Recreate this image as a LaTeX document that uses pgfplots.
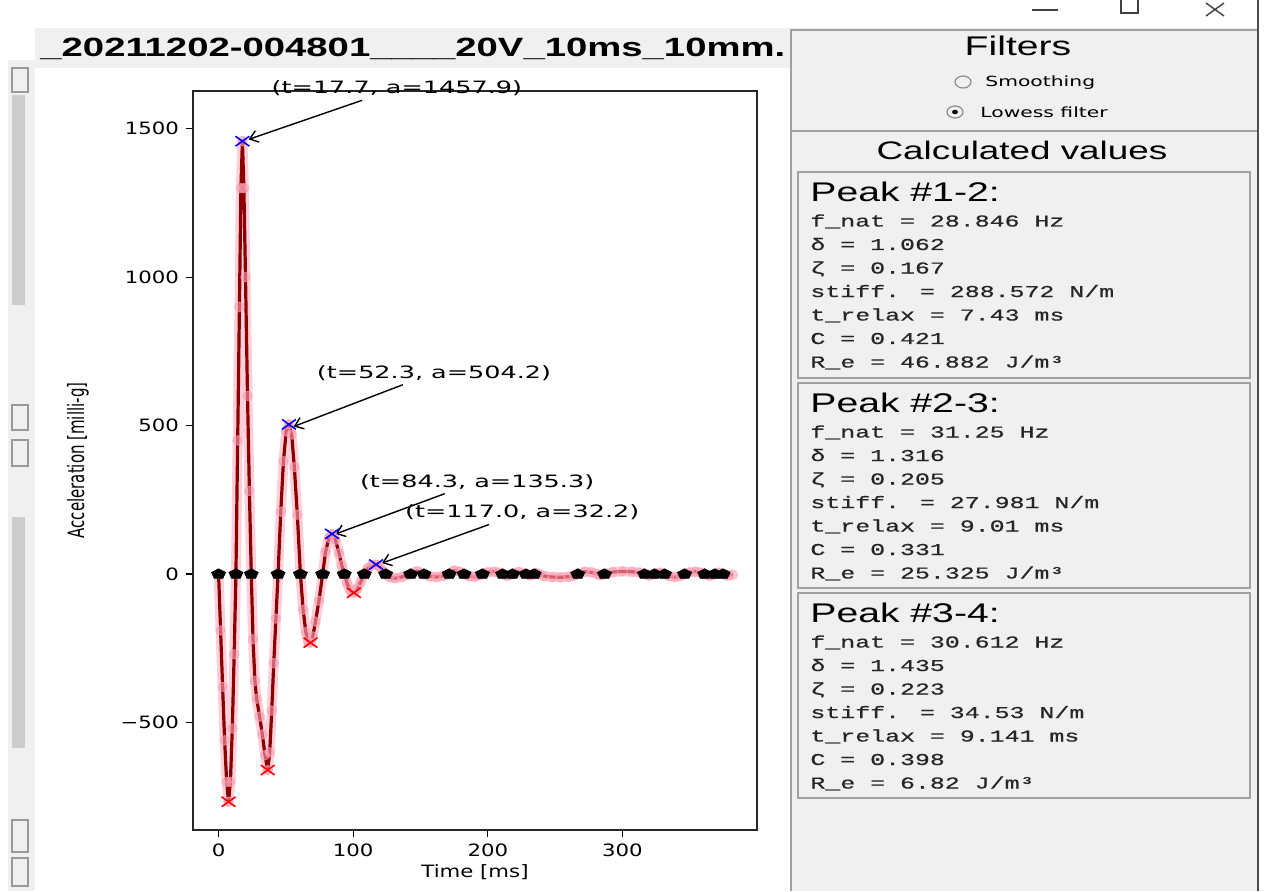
\documentclass[border=0pt]{standalone}
\usepackage{fontspec}
\usepackage{pgfplots}
\pgfplotsset{compat=1.18}
\usetikzlibrary{arrows.meta}
\setmainfont{DejaVu Sans}
\newfontfamily\mpl[FakeStretch=1.25]{DejaVu Sans}
\newfontfamily\mpla[FakeStretch=1.5]{DejaVu Sans}
\newfontfamily\arialw[FakeStretch=1.45]{Liberation Sans}
\newfontfamily\monow[FakeStretch=1.5,FakeBold=0.6]{Liberation Mono}
\newfontfamily\guiw[FakeStretch=1.45]{DejaVu Sans}
\definecolor{panel}{RGB}{240,240,240}
\definecolor{frameg}{RGB}{160,160,160}
\definecolor{rawpink}{RGB}{255,160,180}
\definecolor{smoothred}{RGB}{139,0,0}

% lowess-smoothed signal
\pgfplotstableread{
t a
0 0
1.5 -190
3 -380
4.5 -560
6 -700
7.4 -767
8.8 -700
10.2 -520
11.6 -270
12.9 0
14.2 450
15.5 900
16.6 1300
17.7 1458
18.8 1300
20 1000
21.5 600
22.9 280
24.3 0
25.6 -220
27 -360
28.3 -420
30.5 -480
32.5 -540
34.5 -610
36.5 -660
38 -600
39.5 -460
41 -300
42.6 -150
44.2 0
46.2 210
48.2 380
50.2 480
52.3 504
54.3 470
56.3 360
58.5 200
60.8 0
62.8 -120
64.8 -195
66.6 -228
68.3 -231
70 -210
72 -160
74.6 -90
77.3 0
79.5 75
82 122
84.3 135
86.8 115
89.5 70
91.5 30
93.4 0
95.5 -32
98 -57
100.5 -63
103 -50
105.5 -28
108.3 0
111 20
114 30
117 32
119.5 25
122 10
124.1 0
127 -10
131 -14
136 -10
142.7 0
147.5 10
152.6 0
157 -8
162 -10
167 -6
171.3 0
175 12
179 8
182.4 0
186 -7
190 -9
193 -5
196 0
200 6
205 8
208 5
211 0
214.5 -6
218.4 0
223 7
228.4 0
231.5 -5
234.5 0
236.3 3
238 0
242 -7
248 -10
254 -11
260 -9
264 -5
266.8 0
272 8
277 6
281.5 0
284 -4
286.7 0
293 7
300 9
307 8
313 5
316.5 0
320 -5
323.9 0
327.5 5
331.3 0
335 -7
339 -10
343 -6
346.2 0
350 6
354 8
358 5
361.1 0
365 -6
368.6 0
371.5 5
374.8 0
378 -5
382 -2
}\smoothdata

% zero crossings
\pgfplotstableread{
t a
0 0
12.9 0
24.3 0
44.2 0
60.8 0
77.3 0
93.4 0
108.3 0
124.1 0
142.7 0
152.6 0
171.3 0
182.4 0
196 0
211 0
218.4 0
228.4 0
234.5 0
266.8 0
286.7 0
316.5 0
323.9 0
331.3 0
346.2 0
361.1 0
368.6 0
374.8 0
}\zerodata

\pgfplotstableread{
t a
17.7 1457.9
52.3 504.2
84.3 135.3
117.0 32.2
}\maxdata

\pgfplotstableread{
t a
7.4 -767
36.5 -660
68.3 -231
100.5 -63
}\mindata

\begin{document}
\begin{tikzpicture}[x=0.5pt,y=0.5pt]
\path[use as bounding box, fill=white] (0,0) rectangle (1265,891);

% window chrome, in screen pixels (y down)
\begin{scope}[shift={(0,891)}, y=-0.5pt]
  % left strip
  \fill[panel] (8,60) rectangle (35,891);
  \fill[black!20] (12,95) rectangle (25,305);
  \fill[black!20] (12,517) rectangle (25,748);
  \foreach \ya/\yb in {68/92, 405/430, 440/466, 820/852, 858/886}
    \draw[black!40, line width=0.7pt] (12,\ya) rectangle (28,\yb);
  % title band
  \fill[panel] (35,28) rectangle (790,68);
  \node[anchor=base west, inner sep=0pt, font=\arialw\bfseries\fontsize{13.2}{15}\selectfont]
    at (40,57) {\_20211202-004801\_\_\_\_20V\_10ms\_10mm.};
  % right panel
  \fill[panel] (790,28) rectangle (1258,891);
  \draw[frameg, line width=0.9pt] (791,30) -- (791,891);
  \draw[frameg, line width=0.9pt] (790,30) -- (1258,30);
  \draw[frameg, line width=0.9pt] (790,131) -- (1258,131);
  \draw[black!70, line width=1pt] (1258,0) -- (1258,891);
  \foreach \ya/\yb in {172/378, 383/588, 593/798}
    \draw[frameg, line width=0.9pt] (798,\ya) rectangle (1250,\yb);
  % window buttons
  \draw[black!75, line width=0.7pt] (1032,10) -- (1058,10);
  \draw[black!75, line width=0.7pt] (1121,0) -- (1121,13) -- (1138,13) -- (1138,0);
  \draw[black!75, line width=0.7pt] (1206,3) -- (1224,16) (1206,16) -- (1224,3);
  % filters
  \node[anchor=base, inner sep=0pt, font=\arialw\fontsize{13.5}{15}\selectfont] at (1018,56) {Filters};
  \draw[black!45, line width=0.6pt] (963,82) ellipse [x radius=8, y radius=6];
  \node[anchor=base west, inner sep=0pt, font=\guiw\fontsize{7}{8}\selectfont] at (985,87) {Smoothing};
  \draw[black!45, line width=0.6pt] (955,112) ellipse [x radius=8, y radius=6];
  \fill[black] (955,112) ellipse [x radius=3, y radius=2.3];
  \node[anchor=base west, inner sep=0pt, font=\guiw\fontsize{7}{8}\selectfont] at (980,118) {Lowess filter};
  \node[anchor=base, inner sep=0pt, font=\arialw\fontsize{12.7}{15}\selectfont] at (1022,160) {Calculated values};
  % calculated values
  \foreach \y/\head/\fa/\fb/\fc/\fd/\fe/\ff/\fg in {
      192/Peak \#1-2:/28.846 Hz/1.062/0.167/288.572 N\slash m/7.43 ms/0.421/46.882 J\slash m³,
      403/Peak \#2-3:/31.25 Hz/1.316/0.205/27.981 N\slash m/9.01 ms/0.331/25.325 J\slash m³,
      613/Peak \#3-4:/30.612 Hz/1.435/0.223/34.53 N\slash m/9.141 ms/0.398/6.82 J\slash m³}{
    \node[anchor=base west, inner sep=0pt, font=\arialw\fontsize{13.5}{15}\selectfont] at (810,\y+9.5) {\head};
    \begin{scope}[every node/.style={anchor=base west, inner sep=0pt, text=black!85,
                  font=\monow\fontsize{8.3}{10}\selectfont}]
      \node at (810,\y+34.5) {f\_nat = \fa};
      \node at (810,\y+58)   {δ = \fb};
      \node at (810,\y+81.5) {ζ = \fc};
      \node at (810,\y+105)  {stiff. = \fd};
      \node at (810,\y+128.5){t\_relax = \fe};
      \node at (810,\y+152)  {C = \ff};
      \node at (810,\y+175.5){R\_e = \fg};
    \end{scope}
  }
\end{scope}

\begin{axis}[
  at={(96.5pt,400pt)}, anchor=north west, scale only axis,
  width=282pt, height=369.5pt,
  xmin=-19, xmax=400, ymin=-862, ymax=1627,
  xtick={0,100,200,300}, xticklabels={0,100,200,300},
  ytick={-500,0,500,1000,1500}, yticklabels={−500,0,500,1000,1500},
  tick pos=left, tick align=outside, major tick length=3.5pt,
  tick style={black, line width=0.6pt},
  axis line style={line width=0.8pt, black!85},
  ticklabel style={font=\mpl\fontsize{8.5}{10}\selectfont},
  xlabel={Time [ms]},
  xlabel style={font=\mpl\fontsize{8.5}{10}\selectfont, at={(axis description cs:0.5,-0.0568)}, anchor=center},
  ylabel={\scalebox{1}[1.5]{Acceleration [milli-g]}},
  ylabel style={font=\fontsize{7.5}{9}\selectfont, at={(axis description cs:-0.204,0.5)}, anchor=center},
  clip=false,
]
\addplot[rawpink, opacity=0.5, line width=5pt, line join=round] table[x=t, y=a] {\smoothdata};
\addplot[only marks, mark=*, mark size=2.4pt, rawpink, opacity=0.6] table[x=t, y=a] {\smoothdata};
\addplot[smoothred, line width=1.6pt, line join=round] table[x=t, y=a] {\smoothdata};
\addplot[only marks, mark=pentagon*, mark size=2.6pt, black, mark options={xscale=1.4}] table[x=t, y=a] {\zerodata};
\addplot[only marks, mark=x, mark size=3.5pt, blue, line width=0.8pt, mark options={xscale=1.4}] table[x=t, y=a] {\maxdata};
\addplot[only marks, mark=x, mark size=3.5pt, red, line width=0.8pt, mark options={xscale=1.4}] table[x=t, y=a] {\mindata};

\begin{scope}[every node/.style={font=\mpla\fontsize{8.5}{10}\selectfont, inner sep=2pt},
              annot/.style={-{Straight Barb[length=4pt,width=6pt]}, line width=0.7pt, black}]
  \node (n1) at (axis cs:132.5,1636) {(t=17.7, a=1457.9)};
  \draw[annot] (n1) -- (axis cs:22.3,1464);
  \node (n2) at (axis cs:160.1,678) {(t=52.3, a=504.2)};
  \draw[annot] (n2) -- (axis cs:55.8,497);
  \node (n3) at (axis cs:192.1,311) {(t=84.3, a=135.3)};
  \draw[annot] (n3) -- (axis cs:86.9,135);
  \node (n4) at (axis cs:225.6,207) {(t=117.0, a=32.2)};
  \draw[annot] (n4) -- (axis cs:121.4,37);
\end{scope}
\end{axis}
\end{tikzpicture}
\end{document}
